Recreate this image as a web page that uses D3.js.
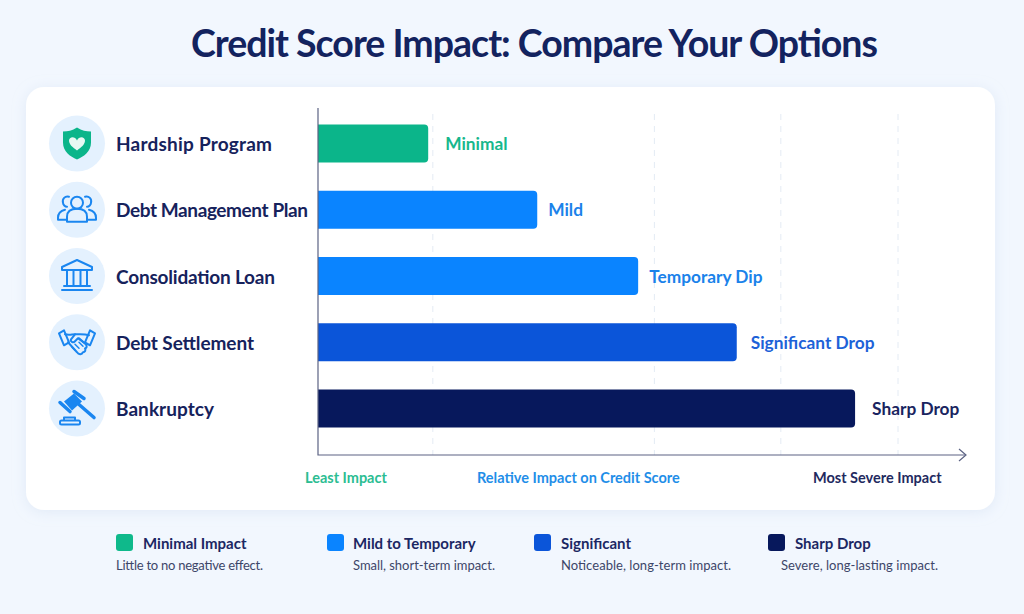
<!DOCTYPE html>
<html><head><meta charset="utf-8">
<script src="https://cdn.jsdelivr.net/npm/d3@7"></script>
<style>
html,body{margin:0;padding:0;background:#f2f7fe}
svg{display:block}
text{font-family:Lato,"Noto Sans",sans-serif}
</style></head><body>
<svg id="chart" width="1024" height="614"></svg>
<script>
const categories=["Hardship Program","Debt Management Plan","Consolidation Loan","Debt Settlement","Bankruptcy"];
const values=[19,37.8,55.2,72.2,92.6];
const barLabels=["Minimal","Mild","Temporary Dip","Significant Drop","Sharp Drop"];
const barColors=["#0bb58a","#0a84ff","#0a84ff","#0b55d9","#07185c"];
const labelColors=["#16b78c","#1a82ea","#1a82ea","#1d62d8","#1a2460"];
const labelGaps=[17,11,11,14,17];
const categoryWidths=[156,192,159,138,98];
const gridTicks=[19.8,58,79.8,100];
const legendTitles=["Minimal Impact","Mild to Temporary","Significant","Sharp Drop"];
const legendNotes=["Little to no negative effect.","Small, short-term impact.","Noticeable, long-term impact.","Severe, long-lasting impact."];
const legendColors=["#0fb98b","#0a84ff","#0b55d9","#07185c"];
const legendSwatchX=[116,327,534,768];
const legendTitleX=[143,353,561,795];
const legendNoteX=[116,353,561,781];
const legendNoteWidths=[147,142,170,157];
const axisNotes=[["Least Impact",305,"#2bbd92"],["Relative Impact on Credit Score",477,"#1f8ee8"],["Most Severe Impact",813,"#1f2a60"]];

const svg=d3.select("#chart");
const defs=svg.append("defs");
const f=defs.append("filter").attr("id","cardShadow").attr("x","-5%").attr("y","-5%").attr("width","110%").attr("height","112%");
f.append("feDropShadow").attr("dx",0).attr("dy",2).attr("stdDeviation",7).attr("flood-color","#b9cbe6").attr("flood-opacity",.3);

svg.append("text").attr("x",191).attr("y",57).attr("font-size",37.5).attr("font-weight",700).attr("fill","#13235f").attr("textLength",687).attr("lengthAdjust","spacing").text("Credit Score Impact: Compare Your Options");

svg.append("rect").attr("x",26).attr("y",87).attr("width",969).attr("height",423).attr("rx",18).attr("fill","#fff").attr("filter","url(#cardShadow)");

const x=d3.scaleLinear().domain([0,100]).range([318,898]);
const y=d3.scaleBand().domain(categories).range([110.4,441.65]).paddingInner(.426).paddingOuter(.213);

// grid
svg.append("g").selectAll("line").data(gridTicks).join("line")
 .attr("x1",d=>x(d)).attr("x2",d=>x(d)).attr("y1",114).attr("y2",455)
 .attr("stroke","#e4ebf4").attr("stroke-width",1).attr("stroke-dasharray","6 6");

// bars
svg.append("g").selectAll("path").data(categories).join("path")
 .attr("d",(c,i)=>{const x0=x(0),x1=x(values[i]),y0=y(c),h=y.bandwidth(),r=4;
   return `M${x0},${y0}H${x1-r}Q${x1},${y0} ${x1},${y0+r}V${y0+h-r}Q${x1},${y0+h} ${x1-r},${y0+h}H${x0}Z`;})
 .attr("fill",(c,i)=>barColors[i]);

// bar labels
svg.append("g").selectAll("text").data(categories).join("text")
 .attr("x",(c,i)=>x(values[i])+labelGaps[i]).attr("y",c=>y(c)+y.bandwidth()/2+6.5)
 .attr("font-size",17.3).attr("font-weight",700).attr("fill",(c,i)=>labelColors[i]).text((c,i)=>barLabels[i]);

// category labels + icons
const rows=svg.append("g").selectAll("g").data(categories).join("g")
 .attr("transform",c=>`translate(0,${y(c)+y.bandwidth()/2})`);
rows.append("circle").attr("cx",77).attr("cy",0).attr("r",28).attr("fill","#e4f1fe");
rows.append("text").attr("x",116).attr("y",7.5).attr("font-size",19).attr("font-weight",700).attr("fill","#16225c").attr("textLength",(c,i)=>categoryWidths[i]).attr("lengthAdjust","spacing").text(c=>c);

const blue="#1a86f0";
const icons=rows.append("g").attr("transform","translate(77,0)").attr("fill","none").attr("stroke",blue).attr("stroke-width",2).attr("stroke-linecap","round").attr("stroke-linejoin","round");
icons.each(function(c,i){
  const g=d3.select(this);
  if(i===0){
    g.append("path").attr("d","M0,-16C5,-13 9,-12 14,-12V-1C14,8 7,13 0,16C-7,13 -14,8 -14,-1V-12C-9,-12 -5,-13 0,-16Z").attr("fill","#0bb58a").attr("stroke","none");
    g.append("path").attr("d","M0,7C-4,4 -8,1 -8,-3C-8,-7 -2,-8 0,-3C2,-8 8,-7 8,-3C8,1 4,4 0,7Z").attr("fill","#e8f8f3").attr("stroke","none");
  } else if(i===1){
    g.append("circle").attr("cx",0).attr("cy",-7).attr("r",6);
    g.append("path").attr("d","M-10,12V7C-10,1 -5,-1 0,-1C5,-1 10,1 10,7V12Z");
    g.append("path").attr("d","M-8,-13C-12,-14 -15,-11 -14,-7C-14,-5 -12,-3 -10,-3");
    g.append("path").attr("d","M8,-13C12,-14 15,-11 14,-7C14,-5 12,-3 10,-3");
    g.append("path").attr("d","M-12,0C-16,1 -19,4 -19,8V10H-10");
    g.append("path").attr("d","M12,0C16,1 19,4 19,8V10H10");
  } else if(i===2){
    g.append("path").attr("d","M0,-16L15,-9V-6H-15V-9Z");
    g.append("path").attr("d","M-10,-6V10M-3.5,-6V10M3.5,-6V10M10,-6V10");
    g.append("path").attr("d","M-13,10H13M-15,14H15");
  } else if(i===3){
    g.append("path").attr("d","M-18,-9L-13,-12L-8,0L-13,3Z");
    g.append("path").attr("d","M18,-9L13,-12L8,0L13,3Z");
    g.append("path").attr("d","M-12,-8C-8,-7 -5,-8 -2,-8H3C6,-8 9,-8 12,-7");
    g.append("path").attr("d","M-9,0L0,10C2,13 5,12 6,10C8,10 9,8 8,6C10,6 10,4 9,2L2,-4");
    g.append("path").attr("d","M-2,-8L-6,-3C-7,-1 -4,1 -2,-1L1,-4L9,2");
    g.append("path").attr("d","M-5,5L-2,8M-2,2L2,6M2,0L6,4").attr("stroke-width",1.5);
  } else {
    g.append("path").attr("d","M-13,-7L-3,-15L5,-7L-5,2Z").attr("fill",blue).attr("stroke","none");
    g.append("path").attr("d","M-3,-17L7,-10M-17,-6L-7,3").attr("stroke-width",3.5);
    g.append("path").attr("d","M2,-4L17,9").attr("stroke-width",3.5);
    g.append("rect").attr("x",-17).attr("y",12).attr("width",20).attr("height",4).attr("rx",1.5);
    g.append("path").attr("d","M-13,11V9H-2V11");
  }
});

// axes
const ax=svg.append("g").attr("fill","none").attr("stroke","#5c6384").attr("stroke-width",1.2);
ax.append("path").attr("d","M318,108V455H965");
ax.append("path").attr("d","M959,449L966,455L959,461");

// axis notes
svg.append("g").selectAll("text").data(axisNotes).join("text")
 .attr("x",d=>d[1]).attr("y",483).attr("font-size",14.5).attr("font-weight",700).attr("fill",d=>d[2]).text(d=>d[0]);

// legend
const lg=svg.append("g");
lg.selectAll("rect").data(legendColors).join("rect").attr("x",(d,i)=>legendSwatchX[i]).attr("y",534).attr("width",17).attr("height",17).attr("rx",3).attr("fill",d=>d);
lg.selectAll("text.t").data(legendTitles).join("text").attr("class","t").attr("x",(d,i)=>legendTitleX[i]).attr("y",549).attr("font-size",15).attr("font-weight",700).attr("fill","#1c2763").text(d=>d);
lg.selectAll("text.n").data(legendNotes).join("text").attr("class","n").attr("x",(d,i)=>legendNoteX[i]).attr("y",570).attr("font-size",13).attr("fill","#3d4669").attr("textLength",(d,i)=>legendNoteWidths[i]).attr("lengthAdjust","spacing").text(d=>d);
</script>
</body></html>
